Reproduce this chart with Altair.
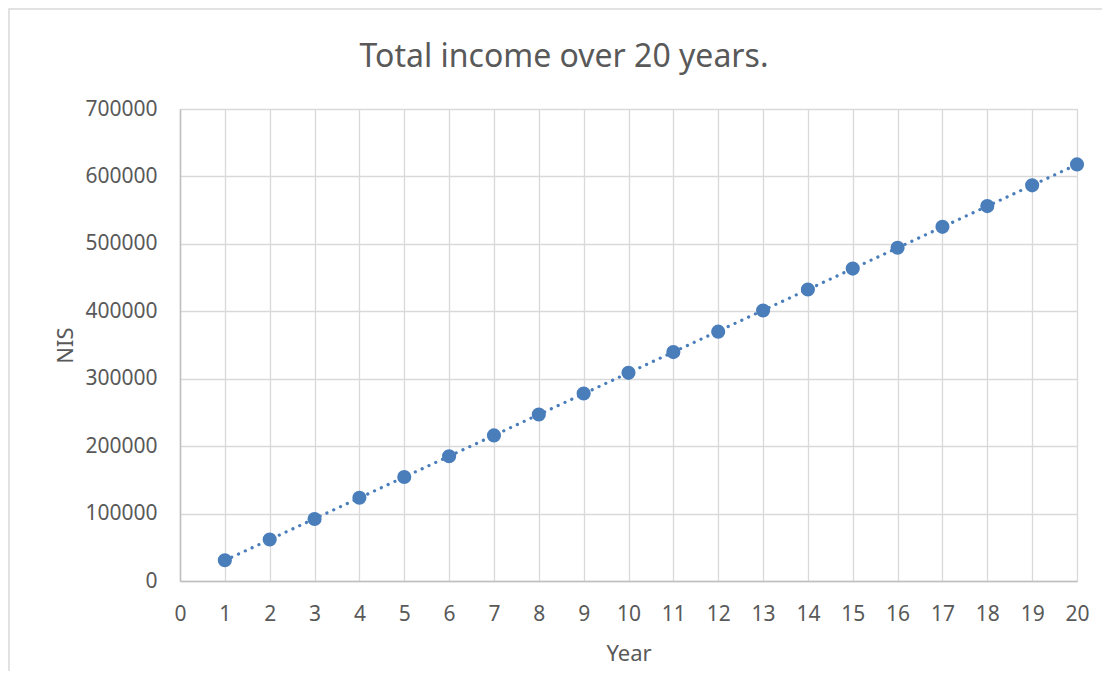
import altair as alt
import pandas as pd

years = list(range(1, 21))
income = [30800, 61500, 92000, 123500, 154300, 185000, 215900, 246900, 278000, 308700,
          339500, 369800, 401200, 432300, 463300, 494200, 525200, 556000, 586800, 617800]
x_ticks = list(range(0, 21))
y_ticks = [0, 100000, 200000, 300000, 400000, 500000, 600000, 700000]
title_text = "Total income over 20 years."

df = pd.DataFrame({"Year": years, "NIS": income})

FONT = "Noto Sans"
GREY = "#595959"
BLUE = "#4a7ebb"

xs = alt.Scale(domain=[0, 20], nice=False, zero=True)
ys = alt.Scale(domain=[0, 700000], nice=False)

x_axis = alt.Axis(values=x_ticks, title="Year", ticks=False, labelPadding=22,
                  labelFontSize=21, labelFont=FONT, labelColor=GREY,
                  titleFontSize=22, titleFont=FONT, titleColor=GREY, titleFontWeight="normal",
                  titleY=79, titleBaseline="alphabetic",
                  domainColor="#bfbfbf", domainWidth=1.5, gridColor="#d9d9d9", gridWidth=1.3,
                  labelFlush=False)
y_axis = alt.Axis(values=y_ticks, title="NIS", ticks=False, labelPadding=23,
                  labelFontSize=21, labelFont=FONT, labelColor=GREY, format="d",
                  titleFontSize=22, titleFont=FONT, titleColor=GREY, titleFontWeight="normal",
                  titleX=-108, titleY=236, titleBaseline="alphabetic", titleAngle=-90,
                  domainColor="#bfbfbf", domainWidth=1.5, gridColor="#d9d9d9", gridWidth=1.3,
                  labelFlush=False)

base = alt.Chart(df)
one = base.transform_filter("datum.Year == 1")

border = one.mark_rect(fill=None, stroke="#d9d9d9", strokeWidth=1.5).encode(
    x=alt.value(-171), x2=alt.value(960), y=alt.value(-100), y2=alt.value(700)
)

title = one.mark_text(font=FONT, fontSize=32, color=GREY, align="center",
                      baseline="alphabetic").encode(
    x=alt.value(384), y=alt.value(-42), text=alt.value(title_text)
)

trend = base.transform_regression("Year", "NIS", method="linear", extent=[1, 20]).mark_line(
    color=BLUE, strokeWidth=3.2, strokeDash=[0.1, 7.4], strokeCap="round"
).encode(x=alt.X("Year:Q", scale=xs, axis=x_axis), y=alt.Y("NIS:Q", scale=ys, axis=y_axis))

points = base.mark_circle(size=200, color=BLUE, opacity=1).encode(
    x=alt.X("Year:Q", scale=xs, axis=x_axis), y=alt.Y("NIS:Q", scale=ys, axis=y_axis)
)

chart = alt.layer(border, trend, points, title).properties(
    width=897, height=472,
    autosize=alt.AutoSizeParams(type="none"),
    padding={"left": 172, "top": 101, "right": 25, "bottom": 90},
).configure_view(stroke=None).configure(background="white")

chart.save("out.html", embed_options={"renderer": "svg", "actions": False})
